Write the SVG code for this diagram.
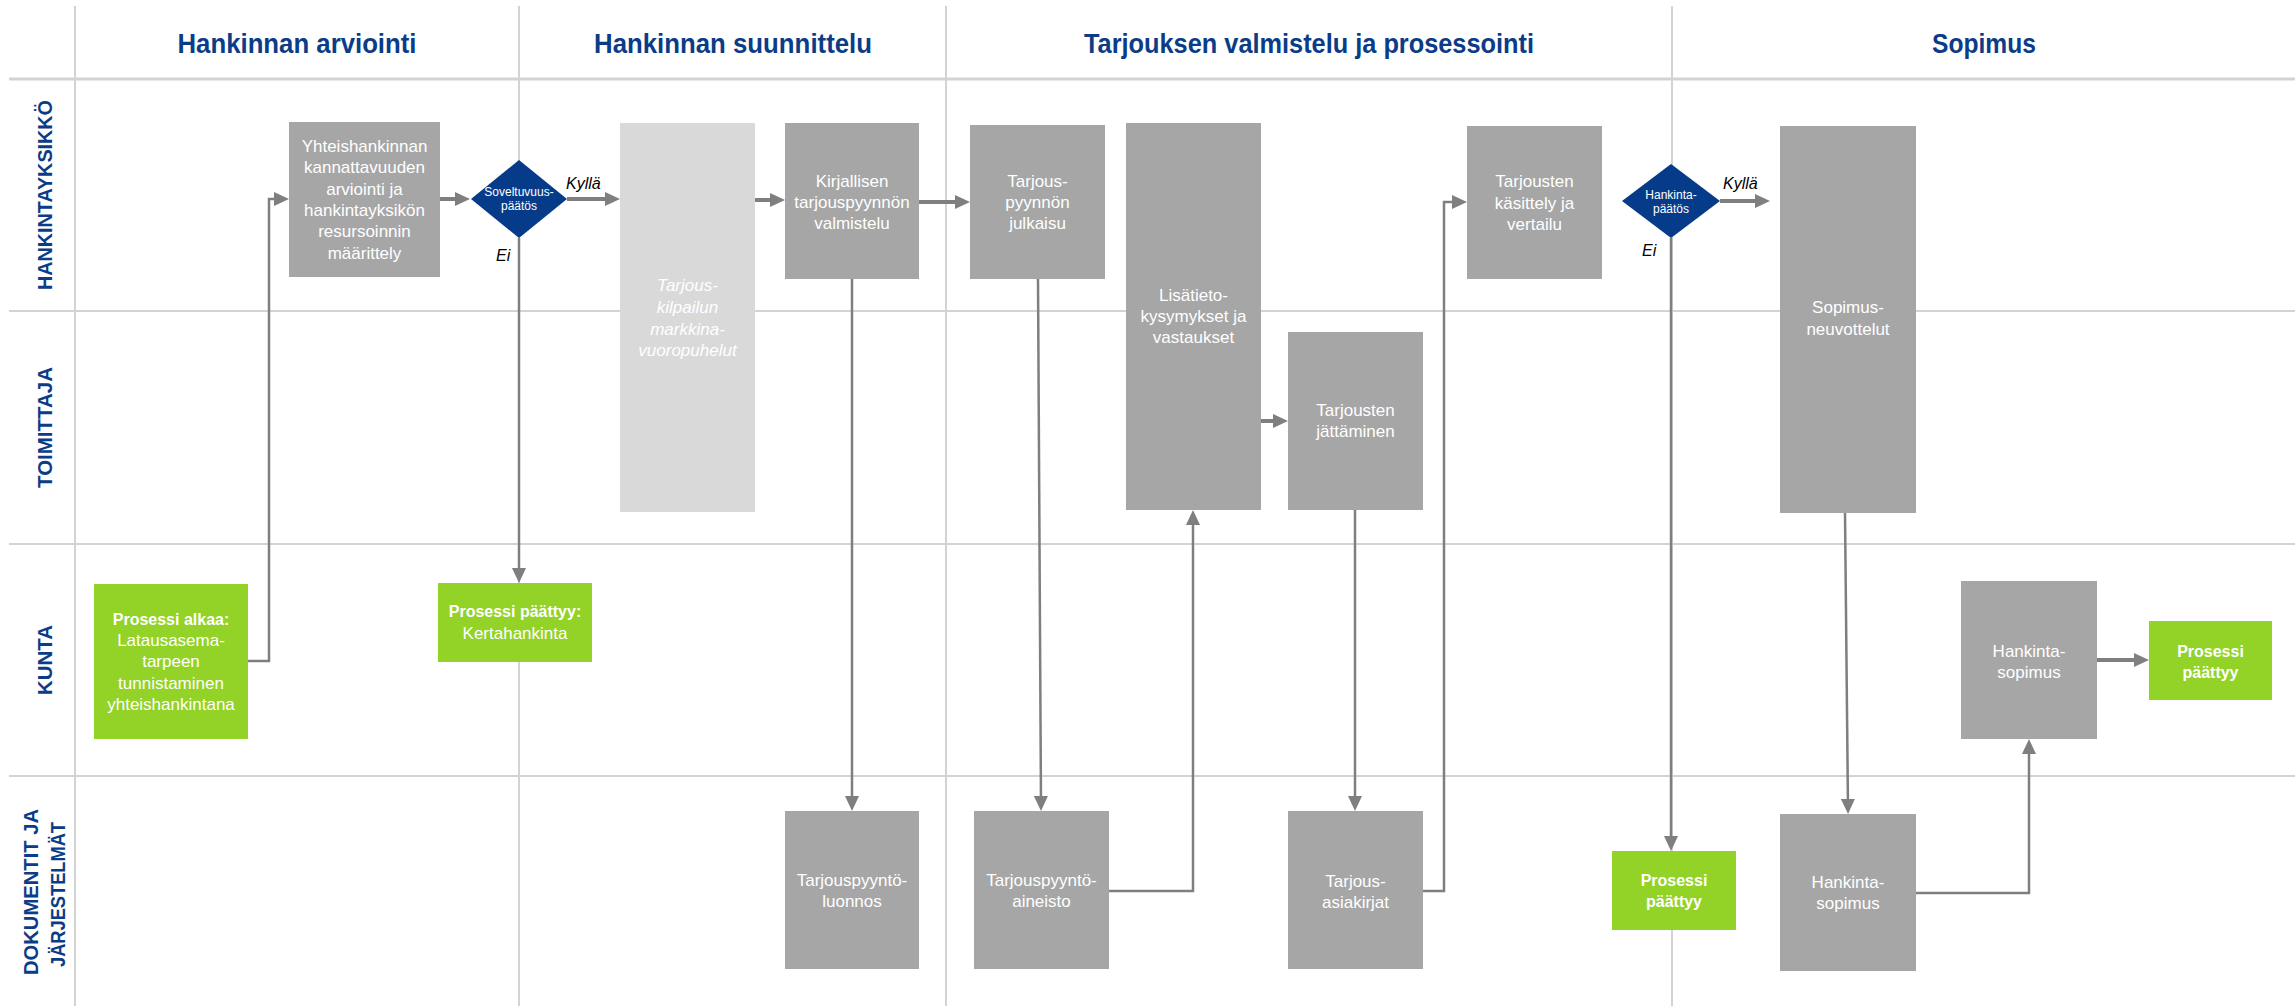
<svg xmlns="http://www.w3.org/2000/svg" width="2295" height="1006" viewBox="0 0 2295 1006">
<style>
.g{fill:none;stroke:#d3d3d3;stroke-width:2}
.gh{stroke-width:3}
.hdr{font-family:"Liberation Sans",Arial,sans-serif;font-weight:bold;font-size:27px;fill:#0b3c87;text-anchor:middle}
.lbl{font-family:"Liberation Sans",Arial,sans-serif;font-weight:bold;font-size:20px;fill:#0b3c87;text-anchor:middle}
.box{fill:#a6a6a6}
.box2{fill:#d9d9d9}
.grn{fill:#93d226}
.dia{fill:#063b8a}
.t{font-family:"Liberation Sans",Arial,sans-serif;font-size:17px;fill:#ffffff;text-anchor:middle}
.tb{font-weight:bold;font-size:16px}
.ti{font-style:italic}
.td{font-size:12px}
.lab{font-family:"Liberation Sans",Arial,sans-serif;font-style:italic;font-size:16px;fill:#000000}
.c{fill:none;stroke:#7f7f7f;stroke-width:2.5;marker-end:url(#ah)}
.cs{stroke-width:4}
</style>
<defs>
<marker id="ah" viewBox="0 0 15 14" refX="10" refY="7" markerWidth="15" markerHeight="14" markerUnits="userSpaceOnUse" orient="auto">
<path d="M0,0L15,7L0,14z" fill="#7f7f7f"/>
</marker>
</defs>
<rect width="2295" height="1006" fill="#ffffff"/>
<g id="grid">
<line class="g gh" x1="9" y1="79" x2="2295" y2="79"/>
<line class="g" x1="9" y1="311" x2="2295" y2="311"/>
<line class="g" x1="9" y1="544" x2="2295" y2="544"/>
<line class="g" x1="9" y1="776" x2="2295" y2="776"/>
<line class="g" x1="75" y1="6" x2="75" y2="1006"/>
<line class="g" x1="519" y1="6" x2="519" y2="1006"/>
<line class="g" x1="946" y1="6" x2="946" y2="1006"/>
<line class="g" x1="1672" y1="6" x2="1672" y2="1006"/>
</g>
<g id="headers">
<text class="hdr" x="297" y="53" textLength="239" lengthAdjust="spacingAndGlyphs">Hankinnan arviointi</text>
<text class="hdr" x="733" y="53" textLength="278" lengthAdjust="spacingAndGlyphs">Hankinnan suunnittelu</text>
<text class="hdr" x="1309" y="53" textLength="450" lengthAdjust="spacingAndGlyphs">Tarjouksen valmistelu ja prosessointi</text>
<text class="hdr" x="1984" y="53" textLength="104" lengthAdjust="spacingAndGlyphs">Sopimus</text>
</g>
<g id="lanes">
<text class="lbl" transform="translate(52,195) rotate(-90)" textLength="190" lengthAdjust="spacingAndGlyphs">HANKINTAYKSIKKÖ</text>
<text class="lbl" transform="translate(52,427.5) rotate(-90)" textLength="121" lengthAdjust="spacingAndGlyphs">TOIMITTAJA</text>
<text class="lbl" transform="translate(52,660) rotate(-90)" textLength="70" lengthAdjust="spacingAndGlyphs">KUNTA</text>
<text class="lbl" transform="translate(38,892) rotate(-90)" textLength="166" lengthAdjust="spacingAndGlyphs">DOKUMENTIT JA</text>
<text class="lbl" transform="translate(65,894.5) rotate(-90)" textLength="145" lengthAdjust="spacingAndGlyphs">JÄRJESTELMÄT</text>
</g>
<g id="connectors">
<path class="c" d="M248,661H269V199H284"/>
<path class="c cs" d="M440,199H465"/>
<path class="c cs" d="M567,199H615"/>
<path class="c" d="M519,238V578"/>
<path class="c cs" d="M755,200H780"/>
<path class="c cs" d="M919,202H965"/>
<path class="c" d="M852,279V806"/>
<path class="c" d="M1038,279L1041,806"/>
<path class="c" d="M1109,891H1193V515"/>
<path class="c cs" d="M1261,421H1283"/>
<path class="c" d="M1355,510V806"/>
<path class="c" d="M1423,891H1444V202H1462"/>
<path class="c cs" d="M1720,201H1765"/>
<path class="c" d="M1671,238V846"/>
<path class="c" d="M1845,513L1848,809"/>
<path class="c" d="M1916,893H2029V744"/>
<path class="c cs" d="M2097,660H2144"/>
</g>
<g id="start">
<rect class="grn" x="94" y="584" width="154" height="155"/>
<text class="t"><tspan class="tb" x="171" y="625">Prosessi alkaa:</tspan><tspan x="171" y="646">Latausasema-</tspan><tspan x="171" y="667">tarpeen</tspan><tspan x="171" y="689">tunnistaminen</tspan><tspan x="171" y="710">yhteishankintana</tspan></text>
</g>
<g id="arviointi">
<rect class="box" x="289" y="122" width="151" height="155"/>
<text class="t"><tspan x="364.5" y="152">Yhteishankinnan</tspan><tspan x="364.5" y="173">kannattavuuden</tspan><tspan x="364.5" y="195">arviointi ja</tspan><tspan x="364.5" y="216">hankintayksikön</tspan><tspan x="364.5" y="237">resursoinnin</tspan><tspan x="364.5" y="259">määrittely</tspan></text>
</g>
<g id="soveltuvuus">
<polygon class="dia" points="519,160 567,199 519,238 471,199"/>
<text class="t td"><tspan x="519" y="196">Soveltuvuus-</tspan><tspan x="519" y="210">päätös</tspan></text>
<text class="lab" x="566" y="189">Kyllä</text>
<text class="lab" x="496" y="261">Ei</text>
</g>
<g id="kertahankinta">
<rect class="grn" x="438" y="583" width="154" height="79"/>
<text class="t"><tspan class="tb" x="515" y="617">Prosessi päättyy:</tspan><tspan x="515" y="639">Kertahankinta</tspan></text>
</g>
<g id="markkinavuoropuhelut">
<rect class="box2" x="620" y="123" width="135" height="389"/>
<text class="t ti"><tspan x="687.5" y="291">Tarjous-</tspan><tspan x="687.5" y="313">kilpailun</tspan><tspan x="687.5" y="335">markkina-</tspan><tspan x="687.5" y="356">vuoropuhelut</tspan></text>
</g>
<g id="kirjallisen">
<rect class="box" x="785" y="123" width="134" height="156"/>
<text class="t"><tspan x="852" y="187">Kirjallisen</tspan><tspan x="852" y="208">tarjouspyynnön</tspan><tspan x="852" y="229">valmistelu</tspan></text>
</g>
<g id="luonnos">
<rect class="box" x="785" y="811" width="134" height="158"/>
<text class="t"><tspan x="852" y="886">Tarjouspyyntö-</tspan><tspan x="852" y="907">luonnos</tspan></text>
</g>
<g id="julkaisu">
<rect class="box" x="970" y="125" width="135" height="154"/>
<text class="t"><tspan x="1037.5" y="187">Tarjous-</tspan><tspan x="1037.5" y="208">pyynnön</tspan><tspan x="1037.5" y="229">julkaisu</tspan></text>
</g>
<g id="aineisto">
<rect class="box" x="974" y="811" width="135" height="158"/>
<text class="t"><tspan x="1041.5" y="886">Tarjouspyyntö-</tspan><tspan x="1041.5" y="907">aineisto</tspan></text>
</g>
<g id="lisatieto">
<rect class="box" x="1126" y="123" width="135" height="387"/>
<text class="t"><tspan x="1193.5" y="301">Lisätieto-</tspan><tspan x="1193.5" y="322">kysymykset ja</tspan><tspan x="1193.5" y="343">vastaukset</tspan></text>
</g>
<g id="jattaminen">
<rect class="box" x="1288" y="332" width="135" height="178"/>
<text class="t"><tspan x="1355.5" y="416">Tarjousten</tspan><tspan x="1355.5" y="437">jättäminen</tspan></text>
</g>
<g id="asiakirjat">
<rect class="box" x="1288" y="811" width="135" height="158"/>
<text class="t"><tspan x="1355.5" y="887">Tarjous-</tspan><tspan x="1355.5" y="908">asiakirjat</tspan></text>
</g>
<g id="kasittely">
<rect class="box" x="1467" y="126" width="135" height="153"/>
<text class="t"><tspan x="1534.5" y="187">Tarjousten</tspan><tspan x="1534.5" y="209">käsittely ja</tspan><tspan x="1534.5" y="230">vertailu</tspan></text>
</g>
<g id="hankintapaatos">
<polygon class="dia" points="1671,164 1720,201 1671,238 1622,201"/>
<text class="t td"><tspan x="1671" y="199">Hankinta-</tspan><tspan x="1671" y="213">päätös</tspan></text>
<text class="lab" x="1723" y="189">Kyllä</text>
<text class="lab" x="1642" y="256">Ei</text>
</g>
<g id="loppu1">
<rect class="grn" x="1612" y="851" width="124" height="79"/>
<text class="t"><tspan class="tb" x="1674" y="886">Prosessi</tspan><tspan class="tb" x="1674" y="907">päättyy</tspan></text>
</g>
<g id="neuvottelut">
<rect class="box" x="1780" y="126" width="136" height="387"/>
<text class="t"><tspan x="1848" y="313">Sopimus-</tspan><tspan x="1848" y="335">neuvottelut</tspan></text>
</g>
<g id="sopimus_doc">
<rect class="box" x="1780" y="814" width="136" height="157"/>
<text class="t"><tspan x="1848" y="888">Hankinta-</tspan><tspan x="1848" y="909">sopimus</tspan></text>
</g>
<g id="sopimus_kunta">
<rect class="box" x="1961" y="581" width="136" height="158"/>
<text class="t"><tspan x="2029" y="657">Hankinta-</tspan><tspan x="2029" y="678">sopimus</tspan></text>
</g>
<g id="loppu2">
<rect class="grn" x="2149" y="621" width="123" height="79"/>
<text class="t"><tspan class="tb" x="2210.5" y="657">Prosessi</tspan><tspan class="tb" x="2210.5" y="678">päättyy</tspan></text>
</g>
</svg>
